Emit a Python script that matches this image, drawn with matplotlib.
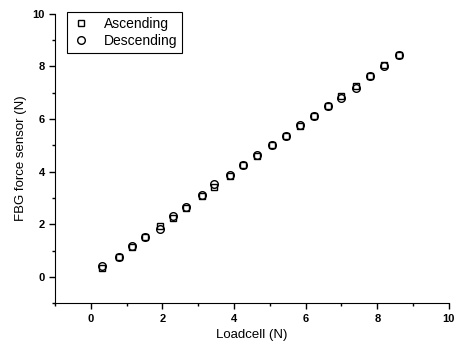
import matplotlib
matplotlib.use("Agg")
import matplotlib.pyplot as plt
from matplotlib.ticker import MultipleLocator

plt.rcParams['font.family'] = ['Liberation Sans', 'DejaVu Sans']

loadcell = [0.31, 0.78, 1.15, 1.5, 1.93, 2.29, 2.65, 3.1, 3.43, 3.88, 4.25,
            4.64, 5.06, 5.45, 5.84, 6.23, 6.62, 7.0, 7.4, 7.8, 8.2, 8.6]
ascending = [0.32, 0.76, 1.14, 1.5, 1.92, 2.22, 2.62, 3.08, 3.42, 3.84, 4.24,
             4.6, 5.0, 5.36, 5.74, 6.1, 6.5, 6.88, 7.24, 7.64, 8.04, 8.42]
descending = [0.4, 0.76, 1.16, 1.52, 1.8, 2.3, 2.66, 3.1, 3.52, 3.86, 4.26,
              4.64, 5.0, 5.36, 5.76, 6.1, 6.5, 6.82, 7.2, 7.64, 8.02, 8.44]

fig = plt.figure(figsize=(4.59, 3.48), dpi=100)
ax = fig.add_axes([0.12, 0.129, 0.858, 0.831])

ax.plot(loadcell, ascending, 's', mfc='white', mec='black', ms=5, mew=1.0,
        label='Ascending')
ax.plot(loadcell, descending, 'o', mfc='none', mec='black', ms=5.5, mew=1.0,
        label='Descending')

ax.set_xlim(-1, 10)
ax.set_ylim(-1, 10)
ax.xaxis.set_major_locator(MultipleLocator(2))
ax.xaxis.set_minor_locator(MultipleLocator(1))
ax.yaxis.set_major_locator(MultipleLocator(2))
ax.yaxis.set_minor_locator(MultipleLocator(1))
ax.spines['top'].set_visible(False)
ax.spines['right'].set_visible(False)
ax.tick_params(which='both', direction='out', width=1)
ax.tick_params(which='major', length=4, labelsize=8)
ax.tick_params(which='minor', length=2)
for lbl in ax.get_xticklabels() + ax.get_yticklabels():
    lbl.set_fontweight('bold')

ax.set_xlabel("Loadcell (N)", fontsize=9.5)
ax.set_ylabel("FBG force sensor (N)", fontsize=9.5)

leg = ax.legend(loc='upper left', bbox_to_anchor=(0.03, 1.005), fontsize=10,
                fancybox=False, edgecolor='black', framealpha=1,
                handletextpad=0.9, borderpad=0.35, labelspacing=0.2,
                handlelength=1.4, borderaxespad=0)
leg.get_frame().set_linewidth(0.8)

fig.savefig("out.png", dpi=100)
